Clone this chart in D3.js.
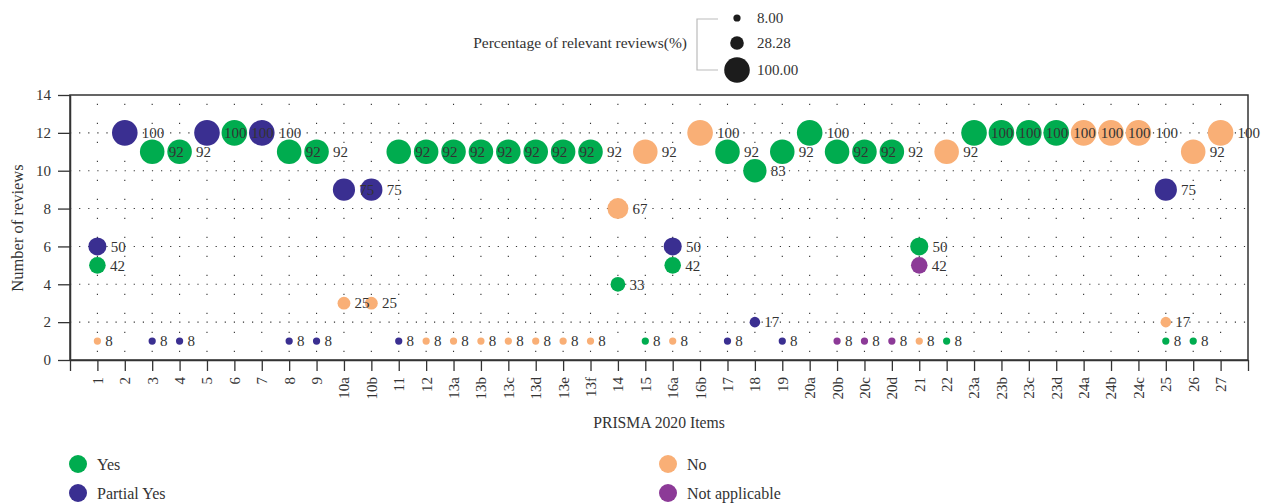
<!DOCTYPE html>
<html><head><meta charset="utf-8">
<script src="https://cdn.jsdelivr.net/npm/d3@7"></script>
<style>
body{margin:0;background:#fff;}
text{font-family:"Liberation Serif","DejaVu Serif",serif;fill:#333;}
</style></head>
<body><svg id="c" width="1270" height="504"></svg>
<script>
const categories = ["1","2","3","4","5","6","7","8","9","10a","10b","11","12","13a","13b","13c","13d","13e","13f","14","15","16a","16b","17","18","19","20a","20b","20c","20d","21","22","23a","23b","23c","23d","24a","24b","24c","25","26","27"];
const _ = null;
const yesCount = [5,_,11,11,_,12,_,11,11,_,_,11,11,11,11,11,11,11,11,4,1,5,_,11,10,11,12,11,11,11,6,1,12,12,12,12,_,_,_,1,1,_];
const yesPct   = [42,_,92,92,_,100,_,92,92,_,_,92,92,92,92,92,92,92,92,33,8,42,_,92,83,92,100,92,92,92,50,8,100,100,100,100,_,_,_,8,8,_];
const partialCount = [6,12,1,1,12,_,12,1,1,9,9,1,_,_,_,_,_,_,_,_,_,6,_,1,2,1,_,_,_,_,_,_,_,_,_,_,_,_,_,9,_,_];
const partialPct   = [50,100,8,8,100,_,100,8,8,75,75,8,_,_,_,_,_,_,_,_,_,50,_,8,17,8,_,_,_,_,_,_,_,_,_,_,_,_,_,75,_,_];
const noCount = [1,_,_,_,_,_,_,_,_,3,3,_,1,1,1,1,1,1,1,8,11,1,12,_,_,_,_,_,_,_,1,11,_,_,_,_,12,12,12,2,11,12];
const noPct   = [8,_,_,_,_,_,_,_,_,25,25,_,8,8,8,8,8,8,8,67,92,8,100,_,_,_,_,_,_,_,8,92,_,_,_,_,100,100,100,17,92,100];
const naCount = [_,_,_,_,_,_,_,_,_,_,_,_,_,_,_,_,_,_,_,_,_,_,_,_,_,_,_,1,1,1,5,_,_,_,_,_,_,_,_,_,_,_];
const naPct   = [_,_,_,_,_,_,_,_,_,_,_,_,_,_,_,_,_,_,_,_,_,_,_,_,_,_,_,8,8,8,42,_,_,_,_,_,_,_,_,_,_,_];
const yTicks = [0,2,4,6,8,10,12,14];
const sizeLegendValues = [8.00, 28.28, 100.00];

const seriesDefs = [
  {name:"Yes", color:"#00AC4F", count:yesCount, pct:yesPct},
  {name:"Partial Yes", color:"#3A2F91", count:partialCount, pct:partialPct},
  {name:"No", color:"#F9AF76", count:noCount, pct:noPct},
  {name:"Not applicable", color:"#8C3A97", count:naCount, pct:naPct}
];

const svg = d3.select("#c");
const pL=70, pR=1248, pT=95, pB=360;
const x = d3.scaleLinear().domain([0, categories.length+1]).range([pL,pR]);
const y = d3.scaleLinear().domain([0,14]).range([pB,pT]);
const r = d3.scaleSqrt().domain([0,100]).range([0,12.8]);

// grid
const grid = svg.append("g").attr("stroke","#333").attr("stroke-width",1.1);
yTicks.filter(v=>v>0 && v<14).forEach(v=>{
  grid.append("line").attr("x1",pL).attr("x2",pR).attr("y1",y(v)).attr("y2",y(v))
    .attr("stroke-dasharray","1.2,7.9");
});
categories.forEach((c,i)=>{
  grid.append("line").attr("x1",x(i+1)).attr("x2",x(i+1)).attr("y1",pB).attr("y2",pT)
    .attr("stroke-dasharray","1.2,17.8").attr("stroke-dashoffset",-8);
});

// frame
svg.append("rect").attr("x",pL).attr("y",pT).attr("width",pR-pL).attr("height",pB-pT)
  .attr("fill","none").attr("stroke","#333").attr("stroke-width",1.5);

// axes
const xAxis = d3.axisBottom(x).tickValues(d3.range(0,categories.length+2))
  .tickFormat(d=> (d>=1 && d<=categories.length) ? categories[d-1] : "").tickSize(11).tickSizeOuter(0);
const gx = svg.append("g").attr("transform",`translate(0,${pB})`).call(xAxis);
gx.select(".domain").attr("stroke","#333").attr("stroke-width",1.5);
gx.selectAll(".tick line").attr("stroke","#333").attr("stroke-width",1.3);
gx.selectAll(".tick text").attr("transform","rotate(-90)").attr("text-anchor","end")
  .attr("x",-17).attr("y",0).attr("dy","0.33em").style("font-size","15px").attr("fill","#333");

const yAxis = d3.axisLeft(y).tickValues(yTicks).tickSize(12).tickPadding(7).tickSizeOuter(0);
const gy = svg.append("g").attr("transform",`translate(${pL},0)`).call(yAxis);
gy.select(".domain").attr("stroke","#333").attr("stroke-width",1.5);
gy.selectAll(".tick line").attr("stroke","#333").attr("stroke-width",1.3);
gy.selectAll(".tick text").style("font-size","15px").attr("fill","#333");

// axis titles
svg.append("text").attr("x",(pL+pR)/2).attr("y",428).attr("text-anchor","middle")
  .style("font-size","15.7px").text("PRISMA 2020 Items");
svg.append("text").attr("transform",`translate(23,228) rotate(-90)`).attr("text-anchor","middle")
  .style("font-size","16.5px").text("Number of reviews");

// points
const pts = [];
seriesDefs.forEach(s=>{
  categories.forEach((c,i)=>{
    if(s.count[i]!=null) pts.push({i, v:s.count[i], p:s.pct[i], color:s.color});
  });
});
svg.append("g").selectAll("circle").data(pts).join("circle")
  .attr("cx",d=>x(d.i+1)).attr("cy",d=>y(d.v)).attr("r",d=>r(d.p)).attr("fill",d=>d.color);
svg.append("g").selectAll("text").data(pts).join("text")
  .attr("x",d=>x(d.i+1)+r(d.p)+4.2).attr("y",d=>y(d.v)).attr("dy","0.35em")
  .style("font-size","15px").text(d=>d.p);

// size legend
svg.append("text").attr("x",687).attr("y",43).attr("dy","0.35em").attr("text-anchor","end")
  .style("font-size","15.5px").text("Percentage of relevant reviews(%)");
svg.append("path").attr("d","M718,19 H697 V70 H718").attr("fill","none").attr("stroke","#bbb").attr("stroke-width",1.2);
const ly = [18,43,70];
sizeLegendValues.forEach((v,k)=>{
  svg.append("circle").attr("cx",737).attr("cy",ly[k]).attr("r",r(v)).attr("fill","#1c1c1c");
  svg.append("text").attr("x",757).attr("y",ly[k]).attr("dy","0.35em").style("font-size","15px").text(v.toFixed(2));
});

// color legend
const legPos = [[78,464],[78,493],[668,464],[668,493]];
seriesDefs.forEach((s,k)=>{
  svg.append("circle").attr("cx",legPos[k][0]).attr("cy",legPos[k][1]).attr("r",9).attr("fill",s.color);
  svg.append("text").attr("x",legPos[k][0]+19).attr("y",legPos[k][1]).attr("dy","0.35em")
    .style("font-size","16px").text(s.name);
});
</script></body></html>
